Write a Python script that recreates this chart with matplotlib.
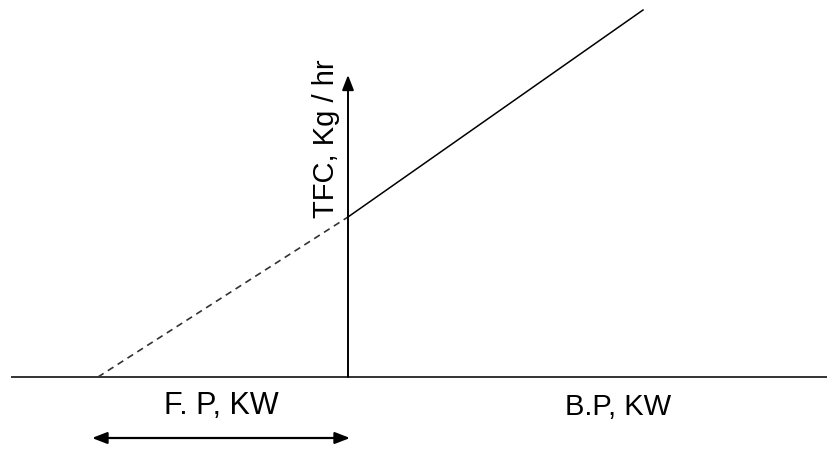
import matplotlib.pyplot as plt

# Willan's line: total fuel consumption vs brake power
bp_extrap = [-2.5, 0.0]      # dashed extrapolation to zero fuel
tfc_extrap = [0.0, 1.6]
bp_meas = [0.0, 2.95]        # measured part of the line
tfc_meas = [1.6, 3.67]

x_label = "B.P, KW"
y_label = "TFC, Kg / hr"
fp_label = "F. P, KW"

plt.rcParams["font.family"] = ["Liberation Sans", "DejaVu Sans"]

fig = plt.figure(figsize=(8.27, 4.51), dpi=100)
ax = fig.add_axes([0, 0, 1, 1])
ax.set_xlim(-3.48, 4.79)
ax.set_ylim(-0.74, 3.77)
ax.axis("off")

# axes
ax.plot([-3.36, 4.79], [0, 0], color="#333333", lw=1.4)
ax.annotate("", xy=(0, 3.02), xytext=(0, 0),
            arrowprops=dict(arrowstyle="-|>,head_length=0.9,head_width=0.35",
                            color="black", lw=1.4, shrinkA=0, shrinkB=0))

# Willan's line
ax.plot(bp_extrap, tfc_extrap, color="#333333", lw=1.2, ls=(0, (4, 3)))
ax.plot(bp_meas, tfc_meas, color="black", lw=1.1)

# friction power span
ax.annotate("", xy=(-2.56, -0.61), xytext=(0.02, -0.61),
            arrowprops=dict(arrowstyle="<|-|>,head_length=0.9,head_width=0.35",
                            color="black", lw=1.6, shrinkA=0, shrinkB=0))

ax.text(-1.27, -0.29, fp_label, fontsize=22, ha="center", va="center")
ax.text(2.70, -0.30, x_label, fontsize=21, ha="center", va="center")
ax.text(-0.22, 2.38, y_label, fontsize=21, ha="center", va="center", rotation=90)

fig.savefig("out.png", dpi=100)
